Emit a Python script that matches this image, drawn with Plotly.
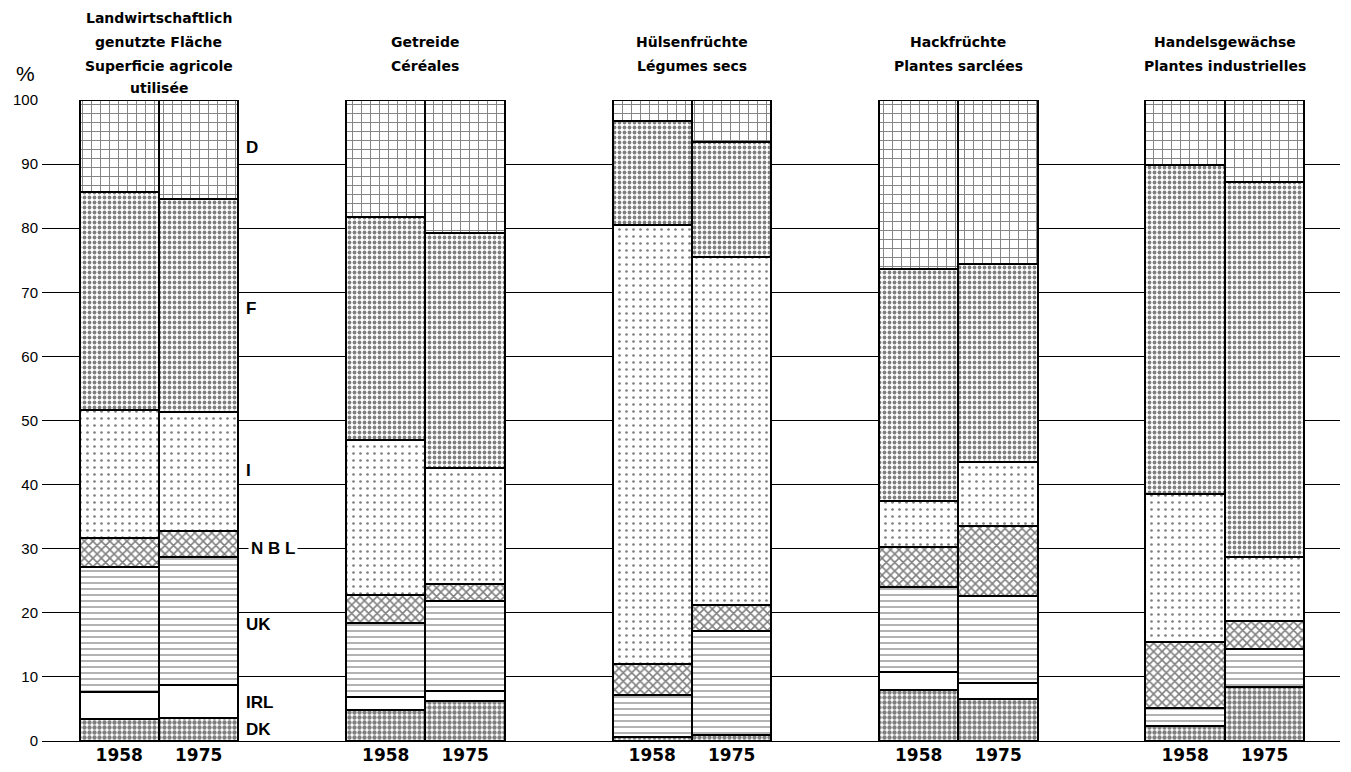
import plotly.graph_objects as go

group_titles = [
    ["Landwirtschaftlich", "genutzte Fläche", "Superficie agricole", "utilisée"],
    ["Getreide", "Céréales"],
    ["Hülsenfrüchte", "Légumes secs"],
    ["Hackfrüchte", "Plantes sarclées"],
    ["Handelsgewächse", "Plantes industrielles"],
]
years = ["1958", "1975"]

# shares (%) per bar: order G1-1958, G1-1975, G2-1958, ...
DK  = [3.5, 3.6, 4.9, 6.2, 0.7, 1.0, 7.9, 6.5, 2.4, 8.5]
IRL = [4.1, 5.2, 1.9, 1.6, 0.0, 0.0, 2.8, 2.5, 0.0, 0.0]
UK  = [19.5, 19.9, 11.6, 14.0, 6.4, 16.2, 13.3, 13.6, 2.8, 5.8]
NBL = [4.6, 4.0, 4.4, 2.7, 4.9, 4.0, 6.3, 11.0, 10.2, 4.4]
I   = [20.0, 18.7, 24.2, 18.1, 68.5, 54.3, 7.2, 10.0, 23.1, 10.0]
F   = [33.9, 33.1, 34.8, 36.7, 16.3, 17.9, 36.1, 30.8, 51.4, 58.5]
D   = [14.4, 15.5, 18.2, 20.7, 3.2, 6.6, 26.4, 25.6, 10.1, 12.8]

series = [
    ("DK", DK, dict(shape=".", size=5, solidity=0.6)),
    ("IRL", IRL, dict(shape="", size=5, solidity=0.1)),
    ("UK", UK, dict(shape="-", size=6, solidity=0.2)),
    ("NBL", NBL, dict(shape="x", size=6, solidity=0.45)),
    ("I", I, dict(shape=".", size=7, solidity=0.12)),
    ("F", F, dict(shape=".", size=5, solidity=0.45)),
    ("D", D, dict(shape="+", size=9, solidity=0.2)),
]

bw = 0.298
xs = []
for g in range(len(group_titles)):
    xs += [g - bw / 2, g + bw / 2]

fig = go.Figure()
for name, vals, pat in series:
    fig.add_trace(go.Bar(
        x=xs, y=vals, width=bw, name=name,
        marker=dict(color="white",
                    line=dict(color="black", width=2),
                    pattern=dict(fgcolor="black", bgcolor="white", **pat)),
        showlegend=False, hoverinfo="y+name"))

FONT = "Liberation Sans"
TFONT = "DejaVu Sans"


def paper_y(page_px):
    # plot area: page y 741 -> 0, page y 100 -> 1
    return (741 - page_px) / 641.0


ann = []
title_rows_4 = [18, 42, 66, 88]
title_rows_2 = [42, 66]
for g, lines in enumerate(group_titles):
    rows = title_rows_4 if len(lines) == 4 else title_rows_2
    for line, py in zip(lines, rows):
        ann.append(dict(x=g, xref="x", y=paper_y(py), yref="paper",
                        xanchor="center", yanchor="middle",
                        text="<b>" + line + "</b>", showarrow=False,
                        font=dict(family=TFONT, size=14, color="black")))

labels = [("D", 92.6), ("F", 67.5), ("I", 42.2), ("UK", 18.2), ("IRL", 6.0), ("DK", 1.8)]
for txt, yv in labels:
    ann.append(dict(x=0.318, xref="x", y=yv, yref="y", xanchor="left", yanchor="middle",
                    text="<b>" + txt + "</b>", showarrow=False,
                    font=dict(family=FONT, size=17, color="black")))
ann.append(dict(x=0.428, xref="x", y=30, yref="y", xanchor="center", yanchor="middle",
                text="<b>N B L</b>", showarrow=False, bgcolor="white", borderpad=2,
                font=dict(family=FONT, size=17, color="black")))
ann.append(dict(x=-0.013, xref="paper", y=paper_y(73), yref="paper",
                xanchor="center", yanchor="middle", text="%", showarrow=False,
                font=dict(family=FONT, size=21, color="black")))

fig.update_layout(
    annotations=ann,
    barmode="stack", bargap=0,
    width=1335, height=762,
    margin=dict(l=34, r=3, t=92, b=29, autoexpand=False),
    paper_bgcolor="white", plot_bgcolor="white",
    xaxis=dict(range=[-0.439, 4.432], tickvals=xs,
               ticktext=["<b>" + y + "</b>" for y in years] * len(group_titles),
               showgrid=False, zeroline=False, showline=False, ticks="",
               ticklabelstandoff=2, automargin=False,
               tickfont=dict(family="DejaVu Sans", size=17, color="black")),
    yaxis=dict(range=[0, 100], tickvals=list(range(0, 101, 10)), showgrid=True,
               gridcolor="black", gridwidth=1, zeroline=True, zerolinecolor="black",
               zerolinewidth=1, ticks="", ticklabelstandoff=3, automargin=False,
               tickfont=dict(family=FONT, size=15, color="black")),
)
fig.write_html("out.html")
